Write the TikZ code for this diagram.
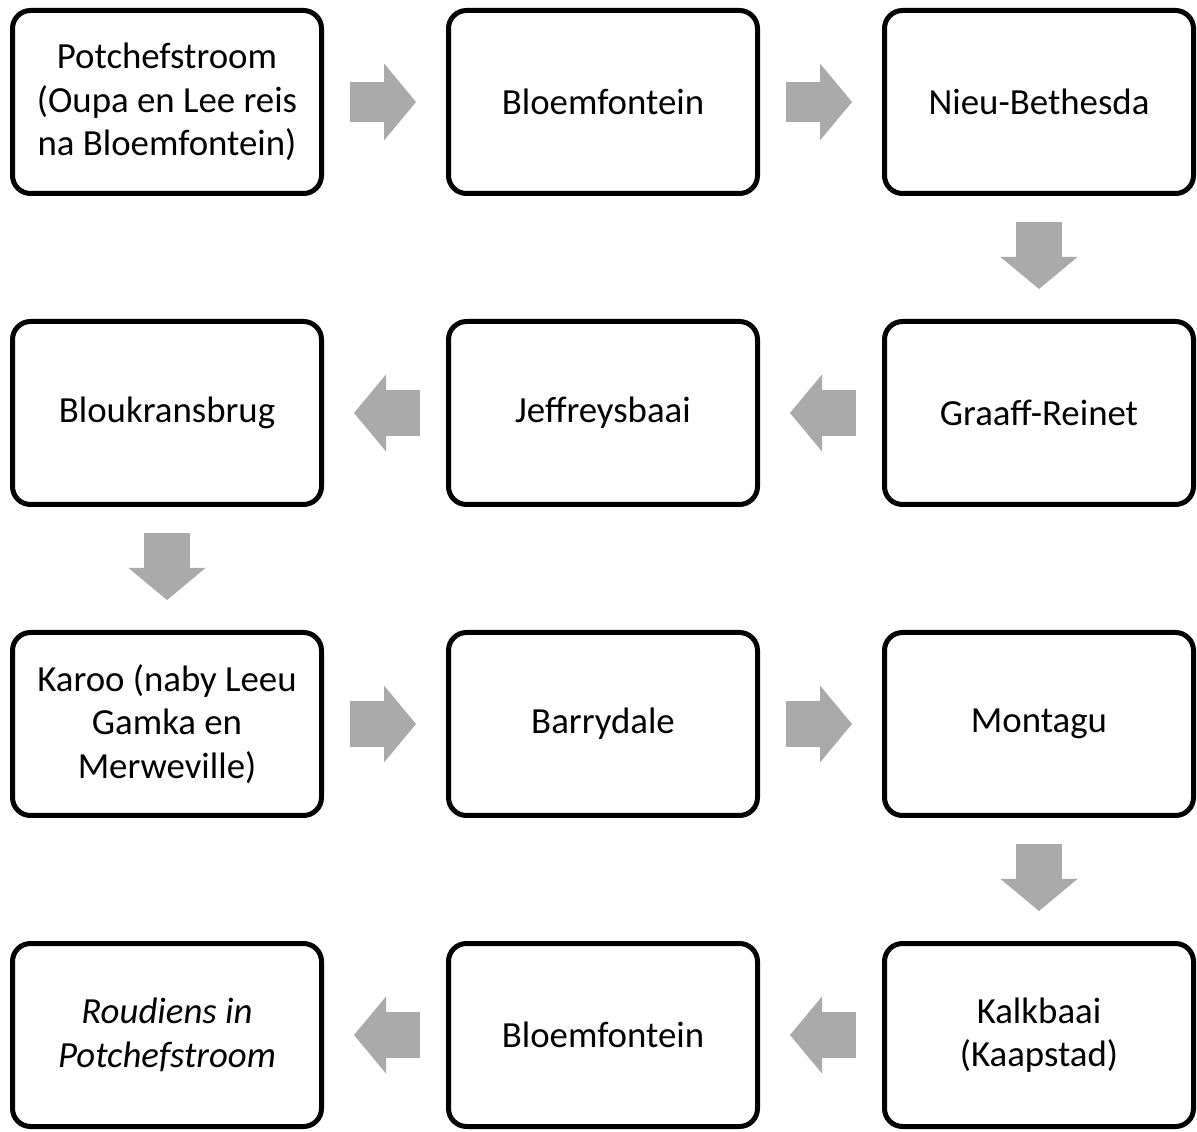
\documentclass[tikz,border=0pt]{standalone}
\usepackage{fontspec}
\setmainfont{Carlito}
\usetikzlibrary{arrows.meta,positioning}
\definecolor{arrowgray}{RGB}{170,170,170}

\begin{document}
\begin{tikzpicture}[node distance=3.05cm and 3.05cm,
  halte/.style={draw, line width=0.125cm, rounded corners=0.45cm, fill=white,
    minimum width=7.725cm, minimum height=4.575cm, align=center,
    font=\fontsize{26.2}{30.8}\selectfont},
  blok/.style={draw=arrowgray, line width=1.15cm,
    -{Triangle[width=1.925cm,length=0.8cm,line width=0pt]},
    shorten <=0.65cm, shorten >=0.75cm}]
  \useasboundingbox (0,0) rectangle (29.925,28.275);
  \node[halte]          (Pot)   at (4.175,25.725)    {Potchefstroom\\(Oupa en Lee reis\\na Bloemfontein)};
  \node[halte]          (Blo1)  [right =of Pot]      {Bloemfontein};
  \node[halte]          (Nie)   [right =of Blo1]     {Nieu-Bethesda};
  \node[halte]          (Gra)   [below =3.075cm of Nie]  {Graaff-Reinet};
  \node[halte]          (Jef)   [left =of Gra]       {Jeffreysbaai};
  \node[halte]          (Blk)   [left =of Jef]       {Bloukransbrug};
  \node[halte]          (Kar)   [below =3.075cm of Blk]  {Karoo (naby Leeu\\Gamka en\\Merweville)};
  \node[halte]          (Bar)   [right =of Kar]      {Barrydale};
  \node[halte]          (Mon)   [right =of Bar]      {Montagu};
  \node[halte]          (Kal)   [below =3.075cm of Mon]  {Kalkbaai\\(Kaapstad)};
  \node[halte]          (Blo2)  [left =of Kal]       {Bloemfontein};
  \node[halte]          (Rou)   [left =of Blo2]      {{\itshape Roudiens in}\\{\itshape Potchefstroom}};
% the route, stop to stop
\path (Pot)   edge [blok, line width=1cm]  (Blo1)
      (Blo1)  edge [blok, line width=1cm]  (Nie)
      (Nie)   edge [blok]   (Gra)
      (Gra)   edge [blok]   (Jef)
      (Jef)   edge [blok]   (Blk)
      (Blk)   edge [blok]   (Kar)
      (Kar)   edge [blok]   (Bar)
      (Bar)   edge [blok]   (Mon)
      (Mon)   edge [blok]   (Kal)
      (Kal)   edge [blok]   (Blo2)
      (Blo2)  edge [blok]   (Rou);
\end{tikzpicture}
\end{document}
